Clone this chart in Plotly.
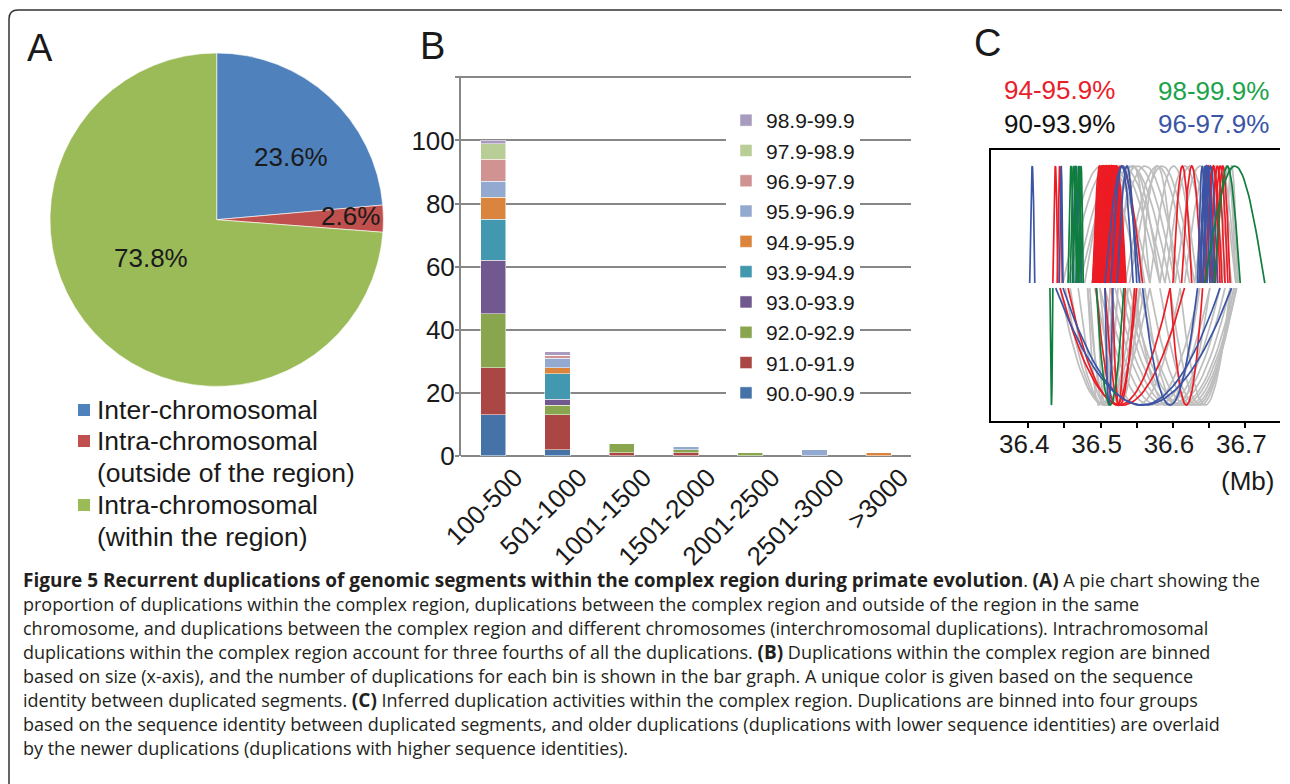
import numpy as np
import plotly.graph_objects as go

# The page places the figure 8 px from the window's top-left corner (body margin),
# so the figure is sized to the remaining area and page pixel positions are mapped.
OFF = 8
W, H = 1290 - OFF, 784 - OFF
def fx(x): return (x - OFF) / W
def fy(y): return 1 - (y - OFF) / H

# ---------------- Panel A data ----------------
pie_labels = ["Inter-chromosomal", "Intra-chromosomal<br>(outside of the region)", "Intra-chromosomal<br>(within the region)"]
pie_values = [23.6, 2.6, 73.8]
pie_colors = ["#4F81BD", "#C0504D", "#9BBB59"]

# ---------------- Panel B data ----------------
size_bins = ["100-500", "501-1000", "1001-1500", "1501-2000", "2001-2500", "2501-3000", ">3000"]
identity_bins = ["90.0-90.9", "91.0-91.9", "92.0-92.9", "93.0-93.9", "93.9-94.9",
                 "94.9-95.9", "95.9-96.9", "96.9-97.9", "97.9-98.9", "98.9-99.9"]
counts_90_0 = [13, 2, 0, 0, 0, 0, 0]
counts_91_0 = [15, 11, 1, 1, 0, 0, 0]
counts_92_0 = [17, 3, 3, 1, 1, 0, 0]
counts_93_0 = [17, 2, 0, 0, 0, 0, 0]
counts_93_9 = [13, 8, 0, 0, 0, 0, 0]
counts_94_9 = [7, 2, 0, 0, 0, 0, 1]
counts_95_9 = [5, 3, 0, 1, 0, 2, 0]
counts_96_9 = [7, 1, 0, 0, 0, 0, 0]
counts_97_9 = [5, 0, 0, 0, 0, 0, 0]
counts_98_9 = [1, 1, 0, 0, 0, 0, 0]
bar_colors = ["#4572A7", "#AA4643", "#89A54E", "#71588F", "#4198AF",
              "#DB843D", "#93A9CF", "#D19392", "#B9CD96", "#A99BBD"]

# ---------------- Panel C data (start Mb, end Mb) ----------------
gray_top = [(36.448, 36.554), (36.455, 36.568), (36.465, 36.582), (36.471, 36.589), (36.478, 36.561),
            (36.488, 36.596), (36.499, 36.603), (36.506, 36.582), (36.513, 36.610), (36.534, 36.623),
            (36.540, 36.630), (36.554, 36.603), (36.568, 36.634), (36.582, 36.651), (36.589, 36.658),
            (36.603, 36.672), (36.616, 36.681), (36.630, 36.687), (36.644, 36.688), (36.658, 36.690),
            (36.665, 36.687), (36.672, 36.690), (36.492, 36.527), (36.524, 36.568)]
red_top = [(36.434, 36.441), (36.440, 36.447),
           (36.489, 36.516), (36.491, 36.520), (36.492, 36.524), (36.494, 36.527), (36.495, 36.529),
           (36.496, 36.532), (36.498, 36.534), (36.499, 36.517), (36.500, 36.521), (36.502, 36.525),
           (36.503, 36.528), (36.505, 36.531), (36.491, 36.513), (36.507, 36.523), (36.489, 36.508),
           (36.510, 36.535), (36.490, 36.518), (36.493, 36.522), (36.497, 36.526), (36.501, 36.530),
           (36.504, 36.533), (36.506, 36.529), (36.490, 36.511), (36.508, 36.534), (36.497, 36.519),
           (36.503, 36.520), (36.492, 36.514), (36.509, 36.531),
           (36.499, 36.558), (36.600, 36.626), (36.612, 36.640),
           (36.641, 36.658), (36.647, 36.665), (36.651, 36.672), (36.655, 36.676), (36.659, 36.679),
           (36.644, 36.668), (36.637, 36.655)]
blue_top = [(36.402, 36.409), (36.443, 36.448), (36.461, 36.469), (36.466, 36.473),
            (36.506, 36.554), (36.523, 36.550), (36.514, 36.545),
            (36.634, 36.647), (36.637, 36.651), (36.638, 36.655), (36.641, 36.654), (36.636, 36.658),
            (36.642, 36.662)]
green_top = [(36.455, 36.463), (36.458, 36.467), (36.462, 36.470), (36.467, 36.474), (36.470, 36.476),
             (36.644, 36.727), (36.657, 36.693)]
gray_bottom = [(36.444, 36.568), (36.451, 36.561), (36.458, 36.554), (36.469, 36.547), (36.482, 36.538),
               (36.485, 36.524), (36.492, 36.610), (36.499, 36.637), (36.506, 36.651), (36.513, 36.665),
               (36.520, 36.672), (36.527, 36.679), (36.534, 36.685), (36.540, 36.688), (36.554, 36.688),
               (36.568, 36.687), (36.582, 36.684), (36.596, 36.681), (36.610, 36.679), (36.547, 36.637),
               (36.561, 36.651), (36.495, 36.516), (36.499, 36.554), (36.482, 36.513)]
red_bottom = [(36.444, 36.616), (36.455, 36.596), (36.494, 36.550), (36.506, 36.547),
              (36.516, 36.534), (36.596, 36.641)]
blue_bottom = [(36.438, 36.681), (36.448, 36.665), (36.506, 36.517), (36.558, 36.634)]
green_bottom = [(36.430, 36.434), (36.494, 36.532)]

fig = go.Figure()

# ---------------- Panel A ----------------
fig.add_trace(go.Pie(
    labels=pie_labels, values=pie_values, sort=False, direction="clockwise", rotation=0,
    marker=dict(colors=pie_colors, line=dict(color="white", width=0.6)),
    textinfo="none", hoverinfo="label+percent",
    domain=dict(x=[fx(50), fx(383.4)], y=[fy(386.7), fy(52.7)]),
    showlegend=False))

# ---------------- Panel B ----------------
bar_series = [counts_90_0, counts_91_0, counts_92_0, counts_93_0, counts_93_9,
              counts_94_9, counts_95_9, counts_96_9, counts_97_9, counts_98_9]
for name, vals, col in zip(identity_bins, bar_series, bar_colors):
    fig.add_trace(go.Bar(x=size_bins, y=vals, name=name,
                         marker=dict(color=col, line=dict(color="white", width=0.5)),
                         xaxis="x", yaxis="y", legend="legend"))

# ---------------- Panel C ----------------
t = np.linspace(0, 1, 41)
def arcs(pairs, top):
    xs, ys = [], []
    for s, e in pairs:
        xs.extend(list(s + (e - s) * t) + [None])
        if top:
            ys.extend(list(np.sin(np.pi * t)) + [None])
        else:
            ys.extend(list(-0.043 - 4 * t * (1 - t)) + [None])
    return xs, ys

for pairs, top, col in [(gray_top, True, "#BEBEBE"), (gray_bottom, False, "#BEBEBE"),
                        (red_top, True, "#ED1C24"), (red_bottom, False, "#ED1C24"),
                        (blue_top, True, "#3B54A5"), (blue_bottom, False, "#3B54A5"),
                        (green_top, True, "#0E7F3C"), (green_bottom, False, "#0E7F3C")]:
    xs, ys = arcs(pairs, top)
    fig.add_trace(go.Scatter(x=xs, y=ys, mode="lines", line=dict(color=col, width=1.7),
                             xaxis="x2", yaxis="y2", showlegend=False, hoverinfo="skip"))

gridc = "#878787"
fig.update_layout(
    width=W, height=H, margin=dict(l=0, r=0, t=0, b=0, autoexpand=False),
    paper_bgcolor="white", plot_bgcolor="rgba(0,0,0,0)",
    barmode="stack", bargap=0.607,
    font=dict(family="Liberation Sans, Arial, sans-serif", color="#1a1a1a"),
    xaxis=dict(domain=[fx(461), fx(911)], anchor="y", type="category", showline=False,
               showgrid=False, zeroline=False, tickangle=-45, ticks="",
               tickfont=dict(size=26, color="#1a1a1a"), ticklabelshift=22),
    yaxis=dict(domain=[fy(456), fy(75.7)], anchor="x", range=[0, 120.5],
               tickvals=[0, 20, 40, 60, 80, 100, 120], ticktext=["0", "20", "40", "60", "80", "100", ""],
               showgrid=True, gridcolor=gridc, gridwidth=2, zeroline=True, zerolinecolor=gridc,
               zerolinewidth=2, showline=True, linecolor=gridc, linewidth=2,
               ticks="outside", ticklen=4, tickcolor=gridc, tickwidth=2, ticklabelstandoff=-5,
               tickfont=dict(size=26, color="#1a1a1a")),
    xaxis2=dict(domain=[fx(991), fx(1280)], anchor="y2", range=[36.3485, 36.748],
                tickvals=[36.40, 36.45, 36.50, 36.55, 36.60, 36.65, 36.70],
                ticktext=["36.4", "", "36.5", "", "36.6", "", "36.7"],
                showline=True, linecolor="black", linewidth=2, mirror=True,
                ticks="outside", ticklen=5, tickwidth=1.5, tickcolor="black",
                ticklabelshift=-4, ticklabelstandoff=-6,
                showgrid=False, zeroline=False, tickfont=dict(size=26, color="#1a1a1a")),
    yaxis2=dict(domain=[fy(421), fy(150)], anchor="x2", range=[-1.179, 1.137],
                showline=True, linecolor="black", linewidth=2, showticklabels=False,
                ticks="", showgrid=False, zeroline=False),
    legend=dict(x=fx(726), y=fy(100), xanchor="left", yanchor="top", traceorder="reversed",
                bgcolor="white", font=dict(size=21, color="#1a1a1a"), borderwidth=0),
)

ann = []
def add_text(txt, x, y, size, color="#1a1a1a", xanchor="center", family=None):
    d = dict(text=txt, x=fx(x), y=fy(y), xref="paper", yref="paper", showarrow=False,
             xanchor=xanchor, yanchor="middle", font=dict(size=size, color=color))
    if family:
        d["font"]["family"] = family
    ann.append(d)

add_text("A", 40, 48, 38)
add_text("B", 432, 46, 38)
add_text("C", 987, 43, 38)
pie_label_pos = [(290.5, 157), (350, 216), (151, 258)]
for v, (x, y) in zip(pie_values, pie_label_pos):
    add_text(f"{v:.1f}%", x, y, 26)

# Pie legend (square key + text lines)
pie_key_rows = [410, 441, 505]
row_gap = 32
for lab, col, y0 in zip(pie_labels, pie_colors, pie_key_rows):
    fig.add_shape(type="rect", xref="paper", yref="paper",
                  x0=fx(78), x1=fx(90), y0=fy(y0 + 6), y1=fy(y0 - 6),
                  fillcolor=col, line=dict(width=0))
    for k, part in enumerate(lab.split("<br>")):
        add_text(part, 95, y0 + k * row_gap, 26.5, "#1a1a1a", "left")

add_text("94-95.9%", 1002, 90, 26, "#E8202A", "left")
add_text("90-93.9%", 1002, 124, 26, "#111111", "left")
add_text("98-99.9%", 1156, 91, 26, "#1BA34A", "left")
add_text("96-97.9%", 1156, 124, 26, "#3A55A5", "left")
add_text("(Mb)", 1247, 481, 26)

B = '<span style="font-size:19px"><b>'
E = '</b></span>'
caption = [
    B + "Figure 5 Recurrent duplications of genomic segments within the complex region during primate evolution" + E + ". " + B + "(A)" + E + " A pie chart showing the",
    "proportion of duplications within the complex region, duplications between the complex region and outside of the region in the same",
    "chromosome, and duplications between the complex region and different chromosomes (interchromosomal duplications). Intrachromosomal",
    "duplications within the complex region account for three fourths of all the duplications. " + B + "(B)" + E + " Duplications within the complex region are binned",
    "based on size (x-axis), and the number of duplications for each bin is shown in the bar graph. A unique color is given based on the sequence",
    "identity between duplicated segments. " + B + "(C)" + E + " Inferred duplication activities within the complex region. Duplications are binned into four groups",
    "based on the sequence identity between duplicated segments, and older duplications (duplications with lower sequence identities) are overlaid",
    "by the newer duplications (duplications with higher sequence identities).",
]
for i, line in enumerate(caption):
    add_text(line, 21, 580 + 24 * i, 18, "#231F20", "left", "Open Sans")

fig.update_layout(annotations=ann)

# outer rounded border
r = 9
path = (f"M {fx(9)},{fy(800)} L {fx(9)},{fy(10 + r)} Q {fx(9)},{fy(10)} {fx(9 + r)},{fy(10)} "
        f"L {fx(1288 - r)},{fy(10)} Q {fx(1288)},{fy(10)} {fx(1288)},{fy(10 + r)} L {fx(1288)},{fy(800)}")
fig.add_shape(type="path", path=path, xref="paper", yref="paper",
              line=dict(color="#333333", width=1.5))

fig.write_html("out.html")
